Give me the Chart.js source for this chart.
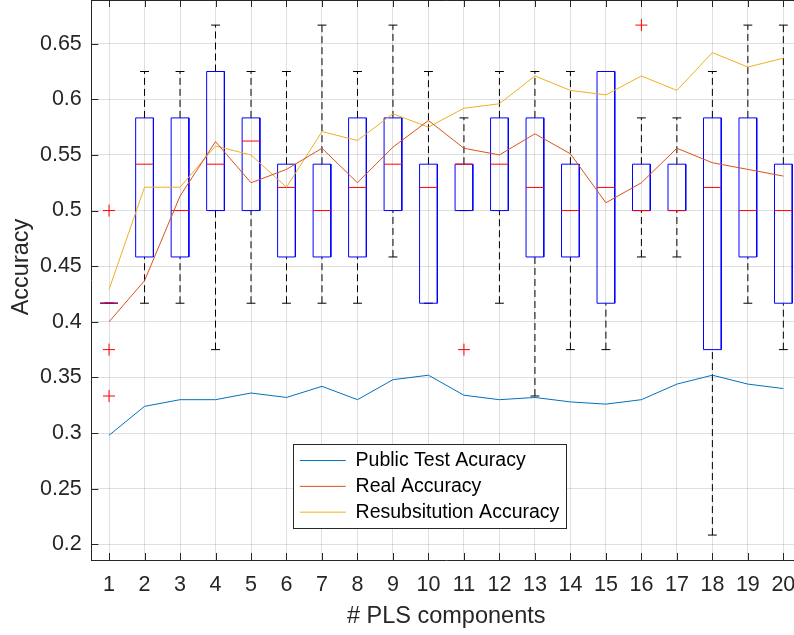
<!DOCTYPE html>
<html>
<head>
<meta charset="utf-8">
<script src="https://cdn.jsdelivr.net/npm/chart.js@4.4.1/dist/chart.umd.min.js"></script>
<style>
  html, body { margin: 0; padding: 0; background: #ffffff; overflow: hidden; }
  #wrap { width: 794px; height: 635px; overflow: hidden; position: relative; }
  canvas { display: block; }
</style>
</head>
<body>
<div id="wrap"><canvas id="c" width="810" height="635"></canvas></div>
<script>
// ---------- data ----------
const components = [1, 2, 3, 4, 5, 6, 7, 8, 9, 10, 11, 12, 13, 14, 15, 16, 17, 18, 19, 20];
const xTickLabels = ['1','2','3','4','5','6','7','8','9','10','11','12','13','14','15','16','17','18','19','20'];
const yTickValues = [0.2, 0.25, 0.3, 0.35, 0.4, 0.45, 0.5, 0.55, 0.6, 0.65];
const yTickLabels = ['0.2','0.25','0.3','0.35','0.4','0.45','0.5','0.55','0.6','0.65'];

const publicTestAccuracy = [0.298, 0.324, 0.330, 0.330, 0.336, 0.332, 0.342, 0.330, 0.348, 0.352,
                            0.334, 0.330, 0.332, 0.328, 0.326, 0.330, 0.344, 0.352, 0.344, 0.340];
const realAccuracy       = [0.400, 0.437, 0.513, 0.562, 0.525, 0.537, 0.556, 0.525, 0.557, 0.581,
                            0.556, 0.550, 0.569, 0.551, 0.507, 0.525, 0.556, 0.543, 0.537, 0.531];
const resubAccuracy      = [0.429, 0.521, 0.521, 0.558, 0.550, 0.521, 0.571, 0.563, 0.587, 0.575,
                            0.592, 0.596, 0.621, 0.608, 0.604, 0.621, 0.608, 0.642, 0.629, 0.637];

// box plot statistics per component
const lowerWhisker = [0.4167, 0.4167, 0.4167, 0.3750, 0.4167, 0.4167, 0.4167, 0.4167, 0.4583, 0.4167,
                      0.5000, 0.4167, 0.3333, 0.3750, 0.3750, 0.4583, 0.4583, 0.2083, 0.4167, 0.3750];
const q1           = [0.4167, 0.4583, 0.4583, 0.5000, 0.5000, 0.4583, 0.4583, 0.4583, 0.5000, 0.4167,
                      0.5000, 0.5000, 0.4583, 0.4583, 0.4167, 0.5000, 0.5000, 0.3750, 0.4583, 0.4167];
const medianVals   = [0.4167, 0.5417, 0.5000, 0.5417, 0.5625, 0.5208, 0.5000, 0.5208, 0.5417, 0.5208,
                      0.5417, 0.5417, 0.5208, 0.5000, 0.5208, 0.5000, 0.5000, 0.5208, 0.5000, 0.5000];
const q3           = [0.4167, 0.5833, 0.5833, 0.6250, 0.5833, 0.5417, 0.5417, 0.5833, 0.5833, 0.5417,
                      0.5417, 0.5833, 0.5833, 0.5417, 0.6250, 0.5417, 0.5417, 0.5833, 0.5833, 0.5417];
const upperWhisker = [0.4167, 0.6250, 0.6250, 0.6667, 0.6250, 0.6250, 0.6667, 0.6250, 0.6667, 0.6250,
                      0.5833, 0.6250, 0.6250, 0.6250, 0.6250, 0.5833, 0.5833, 0.6250, 0.6667, 0.6667];
const outlierX = [1, 1, 1, 11, 16];
const outlierY = [0.5000, 0.3750, 0.3333, 0.3750, 0.6667];

// ---------- styling ----------
const FONT = "'Liberation Sans', Arial, Helvetica, sans-serif";
const AXIS = '#262626';
const GRID = 'rgba(38,38,38,0.15)';
const BOX_HALF = 0.25;
const CAP_HALF = 0.125;
const Y_MIN = 0.18589, Y_MAX = 0.68928;
const CANVAS_W = 810, PLOT_RIGHT = 801.1, PLOT_LEFT = 91.3, X_AXIS_H = 75;

// ---------- build datasets ----------
const lineDs = (label, vals, color) => ({
  label, data: components.map((c, i) => ({ x: c, y: vals[i] })),
  borderColor: color, backgroundColor: color, borderWidth: 1,
  pointRadius: 0, pointStyle: 'line', tension: 0, fill: false
});

const boxPts = [], medPts = [], capPts = [], whiskPts = [];
components.forEach((c, i) => {
  const l = c - BOX_HALF, r = c + BOX_HALF;
  boxPts.push({x: l, y: q1[i]}, {x: l, y: q3[i]}, {x: r, y: q3[i]}, {x: r, y: q1[i]}, {x: l, y: q1[i]}, {x: c, y: null});
  medPts.push({x: l, y: medianVals[i]}, {x: r, y: medianVals[i]}, {x: c, y: null});
  capPts.push({x: c - CAP_HALF, y: upperWhisker[i]}, {x: c + CAP_HALF, y: upperWhisker[i]}, {x: c, y: null});
  capPts.push({x: c - CAP_HALF, y: lowerWhisker[i]}, {x: c + CAP_HALF, y: lowerWhisker[i]}, {x: c, y: null});
  if (upperWhisker[i] > q3[i]) whiskPts.push({x: c, y: q3[i]}, {x: c, y: upperWhisker[i]}, {x: c, y: null});
  if (lowerWhisker[i] < q1[i]) whiskPts.push({x: c, y: lowerWhisker[i]}, {x: c, y: q1[i]}, {x: c, y: null});
});

const segDs = (label, pts, color, dash) => ({
  label, data: pts, borderColor: color, backgroundColor: color, borderWidth: 1,
  borderDash: dash || [], pointRadius: 0, tension: 0, fill: false, spanGaps: false
});

const datasets = [
  lineDs('Public Test Acuracy', publicTestAccuracy, '#0072BD'),
  lineDs('Real Accuracy', realAccuracy, '#D95319'),
  lineDs('Resubsitution Accuracy', resubAccuracy, '#EDB120'),
  { label: 'outliers', data: outlierX.map((x, i) => ({x, y: outlierY[i]})), showLine: false,
    pointStyle: 'cross', pointRadius: 6, borderColor: '#ff0000', backgroundColor: '#ff0000', borderWidth: 1 },
  segDs('median', medPts, '#ff0000'),
  segDs('box', boxPts, '#0000ff'),
  segDs('caps', capPts, '#000000'),
  segDs('whiskers', whiskPts, '#000000', [7, 4])
];

// ---------- plugins ----------
const LEG = { left: 293.5, top: 444.5, right: 566.5, bottom: 528.5 };
const Y_TITLE_SHIFT = 26;
const framePlugin = {
  id: 'frame',
  afterLayout(chart) {
    const lg = chart.legend;
    if (lg) {
      lg.left = LEG.left; lg.top = LEG.top; lg.right = LEG.right; lg.bottom = chart.chartArea.bottom;
      lg.width = lg.right - lg.left; lg.height = lg.bottom - lg.top;
      if (!lg._wrappedDraw) {
        const orig = lg.draw.bind(lg);
        lg.draw = function (area) {
          const ctx = chart.ctx;
          ctx.save();
          ctx.fillStyle = '#ffffff';
          ctx.fillRect(LEG.left, LEG.top, LEG.right - LEG.left, LEG.bottom - LEG.top);
          ctx.strokeStyle = AXIS; ctx.lineWidth = 1;
          ctx.strokeRect(LEG.left, LEG.top, LEG.right - LEG.left, LEG.bottom - LEG.top);
          ctx.restore();
          orig(area);
        };
        lg._wrappedDraw = true;
      }
    }
    const ys = chart.scales.y;
    if (ys && !ys._wrappedTitle) {
      const origTitle = ys.drawTitle.bind(ys);
      ys.drawTitle = function () {
        const t = this.top;
        this.top = t - Y_TITLE_SHIFT;
        origTitle();
        this.top = t;
      };
      ys._wrappedTitle = true;
    }
  },
  beforeDatasetsDraw(chart) {
    const {ctx, chartArea: {left, top, right, bottom}, scales: {x, y}} = chart;
    ctx.save();
    ctx.strokeStyle = AXIS; ctx.lineWidth = 1;
    ctx.beginPath();
    ctx.moveTo(left, top + 0.5); ctx.lineTo(right, top + 0.5);
    x.ticks.forEach(t => {
      const px = Math.round(x.getPixelForValue(t.value)) + 0.5;
      ctx.moveTo(px, bottom); ctx.lineTo(px, bottom - 7);
      ctx.moveTo(px, top); ctx.lineTo(px, top + 7);
    });
    y.ticks.forEach(t => {
      const py = Math.round(y.getPixelForValue(t.value)) + 0.5;
      ctx.moveTo(left, py); ctx.lineTo(left + 7, py);
      ctx.moveTo(right, py); ctx.lineTo(right - 7, py);
    });
    ctx.stroke();
    ctx.restore();
  }
};

// ---------- chart ----------
new Chart(document.getElementById('c'), {
  type: 'line',
  data: { datasets },
  options: {
    responsive: false, animation: false, devicePixelRatio: 1, events: [],
    layout: { autoPadding: false, padding: { left: 0, top: 0, right: CANVAS_W - PLOT_RIGHT, bottom: 0 } },
    scales: {
      x: {
        type: 'linear', min: 0.5, max: 20.5,
        afterBuildTicks: s => { s.ticks = components.map(v => ({ value: v })); },
        afterFit: s => { s.height = X_AXIS_H; s.paddingLeft = 0; s.paddingRight = 0; },
        ticks: { autoSkip: false, maxRotation: 0, minRotation: 0, padding: 12.6, color: AXIS,
                 font: { family: FONT, size: 21.5 }, callback: (v, i) => xTickLabels[i] },
        grid: { color: GRID, drawTicks: false },
        border: { color: AXIS, width: 1 },
        title: { display: true, text: '# PLS components', color: AXIS,
                 font: { family: FONT, size: 23.5 }, padding: { top: 0, bottom: 4.5 } }
      },
      y: {
        type: 'linear', min: Y_MIN, max: Y_MAX,
        afterBuildTicks: s => { s.ticks = yTickValues.map(v => ({ value: v })); },
        afterFit: s => { s.width = PLOT_LEFT; s.paddingTop = 0; s.paddingBottom = 0; },
        ticks: { padding: 9.5, color: AXIS, font: { family: FONT, size: 21.5 },
                 callback: (v, i) => yTickLabels[i] },
        grid: { color: GRID, drawTicks: false },
        border: { color: AXIS, width: 1 },
        title: { display: true, text: 'Accuracy', color: AXIS,
                 font: { family: FONT, size: 23.5 }, padding: { top: 7.5, bottom: 0 } }
      }
    },
    plugins: {
      tooltip: { enabled: false },
      legend: {
        display: true, position: 'chartArea', align: 'start',
        labels: {
          usePointStyle: true, pointStyle: 'line', pointStyleWidth: 46, padding: 6.3,
          color: '#000000', font: { family: FONT, size: 19.5 },
          filter: item => item.datasetIndex < 3
        }
      }
    }
  },
  plugins: [framePlugin]
});
</script>
</body>
</html>
